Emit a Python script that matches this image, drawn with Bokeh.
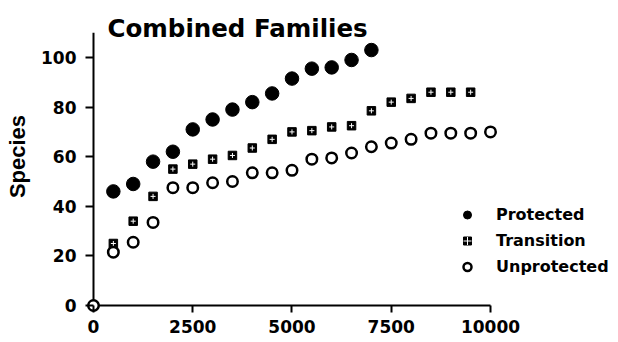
from bokeh.plotting import figure
from bokeh.models import Range1d, FixedTicker, Label, Legend, LegendItem
from bokeh.embed import file_html
from bokeh.resources import INLINE

# ---- data ----
protected_x = [500, 1000, 1500, 2000, 2500, 3000, 3500, 4000, 4500, 5000, 5500, 6000, 6500, 7000]
protected_y = [46, 49, 58, 62, 71, 75, 79, 82, 85.5, 91.5, 95.5, 96, 99, 103]

transition_x = [500, 1000, 1500, 2000, 2500, 3000, 3500, 4000, 4500, 5000,
                5500, 6000, 6500, 7000, 7500, 8000, 8500, 9000, 9500]
transition_y = [25, 34, 44, 55, 57, 59, 60.5, 63.5, 67, 70,
                70.5, 72, 72.5, 78.5, 82, 83.5, 86, 86, 86]

unprotected_x = [0, 500, 1000, 1500, 2000, 2500, 3000, 3500, 4000, 4500, 5000,
                 5500, 6000, 6500, 7000, 7500, 8000, 8500, 9000, 9500, 10000]
unprotected_y = [0, 21.5, 25.5, 33.5, 47.5, 47.5, 49.5, 50, 53.5, 53.5, 54.5,
                 59, 59.5, 61.5, 64, 65.5, 67, 69.5, 69.5, 69.5, 70]

x_ticks = [0, 2500, 5000, 7500, 10000]
y_ticks = [0, 20, 40, 60, 80, 100]
x_axis_end = 10000
y_axis_end = 110

title_text = "Combined Families"
y_label_text = "Species"
series_names = ["Protected", "Transition", "Unprotected"]

# ---- figure ----
W, H = 616, 340
p = figure(width=W, height=H, output_backend="svg", toolbar_location=None,
           x_range=Range1d(-201.5, 13173.8), y_range=Range1d(-2.823, 122.98),
           min_border_left=85, min_border_right=0, min_border_top=0,
           min_border_bottom=28)
p.outline_line_color = None
p.grid.visible = False
p.background_fill_color = "white"
p.border_fill_color = "white"

for ax in (p.xaxis[0], p.yaxis[0]):
    ax.axis_line_color = None
    ax.minor_tick_line_color = None
    ax.major_tick_out = 0
    ax.major_tick_line_color = "black"
    ax.major_tick_line_width = 2
    ax.major_label_text_font = "DejaVu Sans"
    ax.major_label_text_font_style = "bold"
    ax.major_label_text_font_size = "17px"
    ax.major_label_text_color = "black"

p.xaxis[0].ticker = FixedTicker(ticks=x_ticks)
p.xaxis[0].major_tick_in = 7
p.xaxis[0].major_label_standoff = 7
p.yaxis[0].ticker = FixedTicker(ticks=y_ticks)
p.yaxis[0].major_tick_in = 8
p.yaxis[0].major_label_standoff = 9
p.yaxis[0].axis_label = y_label_text
p.yaxis[0].axis_label_standoff = 8
p.yaxis[0].axis_label_text_font = "Liberation Sans"
p.yaxis[0].axis_label_text_font_style = "bold"
p.yaxis[0].axis_label_text_font_size = "22px"
p.yaxis[0].axis_label_text_color = "black"

# axis lines at the data origin
p.segment(x0=[0, 0], y0=[0, 0], x1=[x_axis_end, 0], y1=[0, y_axis_end],
          line_color="black", line_width=2)

r_prot = p.scatter(protected_x, protected_y, marker="circle", size=13.5,
                   fill_color="black", line_color="black", line_width=1)
r_tr = p.scatter(transition_x, transition_y, marker="square", size=8.5,
                 fill_color="black", line_color="black", line_width=1)
r_trx = p.scatter(transition_x, transition_y, marker="cross", size=5,
                  line_color="white", line_width=1)
r_unp = p.scatter(unprotected_x, unprotected_y, marker="circle", size=10.5,
                  fill_color="white", line_color="black", line_width=2.5)

legend = Legend(items=[LegendItem(label=series_names[0], renderers=[r_prot]),
                       LegendItem(label=series_names[1], renderers=[r_tr, r_trx]),
                       LegendItem(label=series_names[2], renderers=[r_unp])],
                location=(372, 34.5), orientation="vertical",
                glyph_width=20, glyph_height=23, label_height=23, spacing=3,
                label_standoff=19, padding=0, margin=0,
                border_line_color=None, background_fill_alpha=0,
                label_text_font="DejaVu Sans", label_text_font_style="bold",
                label_text_font_size="16px", label_text_color="black")
p.add_layout(legend)

title = Label(x=22, y=284, x_units="screen", y_units="screen", text=title_text,
              text_font="DejaVu Sans", text_font_style="bold",
              text_font_size="24.5px", text_color="black",
              text_align="left", text_baseline="alphabetic")
p.add_layout(title)

open("out.html", "w").write(file_html(p, INLINE))
